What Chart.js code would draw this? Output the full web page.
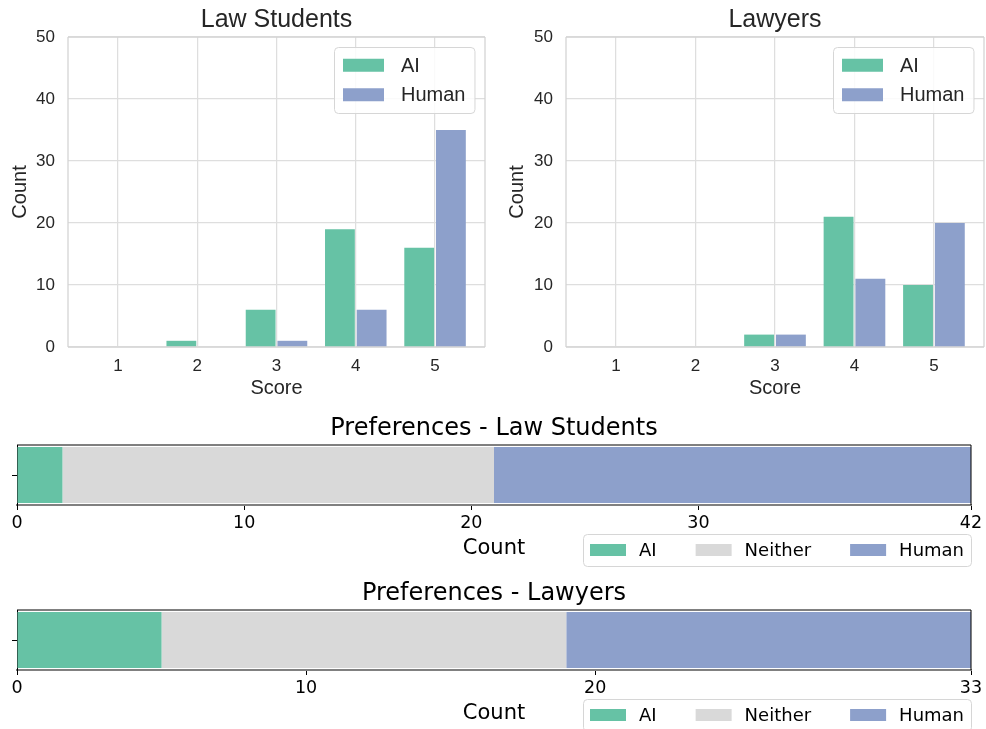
<!DOCTYPE html>
<html>
<head>
<meta charset="utf-8">
<title>Scores and preferences</title>
<script src="https://cdn.jsdelivr.net/npm/chart.js@4.4.1/dist/chart.umd.min.js"></script>
<style>
  html, body { margin: 0; padding: 0; background: #fff; }
  #wrap { position: relative; width: 986px; height: 729px; overflow: hidden; }
  #wrap canvas { position: absolute; }
</style>
</head>
<body>
<div id="wrap">
  <canvas id="students-hist" width="490" height="405" style="left:0;top:0"></canvas>
  <canvas id="lawyers-hist" width="496" height="405" style="left:490px;top:0"></canvas>
  <canvas id="students-pref" width="986" height="165" style="left:0;top:405px"></canvas>
  <canvas id="lawyers-pref" width="986" height="159" style="left:0;top:570px"></canvas>
</div>
<script>
// data
const scoreLabels = [1, 2, 3, 4, 5];
const studentsAI = [0, 1, 6, 19, 16];
const studentsHuman = [0, 0, 1, 6, 35];
const lawyersAI = [0, 0, 2, 21, 10];
const lawyersHuman = [0, 0, 2, 11, 20];

const prefCategories = ['AI', 'Neither', 'Human'];
const studentsPrefs = [2, 19, 21];
const lawyersPrefs = [5, 14, 14];
const studentsPrefTicks = [0, 10, 20, 30, 42];
const lawyersPrefTicks = [0, 10, 20, 33];
const prefRow = [''];

const COLORS = { AI: '#66c2a5', Neither: '#d9d9d9', Human: '#8da0cb' };
const DARK = '#262626';
const SANS = '"Liberation Sans", Arial, sans-serif';
const DEJAVU = '"DejaVu Sans", sans-serif';

Chart.defaults.animation = false;
Chart.defaults.plugins.tooltip.enabled = false;
Chart.defaults.plugins.legend.display = false;

// legend drawn inside / next to the plot area
const insetLegend = {
    id: 'insetLegend',
    afterDraw(chart, args, o) {
        const { ctx, chartArea } = chart;
        const items = chart.data.datasets.map(ds => ({ label: ds.label, color: ds.backgroundColor }));
        ctx.save();
        ctx.font = o.font;
        const widths = items.map(it => ctx.measureText(it.label).width);
        let w, h;
        if (o.vertical) {
            w = o.padX * 2 + o.boxWidth + o.textGap + Math.max(...widths);
            h = o.padY * 2 + o.rowHeight * items.length;
        } else {
            w = o.padX * 2 + widths.reduce((s, tw) => s + o.boxWidth + o.textGap + tw, 0) + o.itemGap * (items.length - 1);
            h = o.padY * 2 + o.rowHeight;
        }
        const x0 = Math.round(chartArea.right - o.offsetRight - w);
        const y0 = Math.round((o.fromBottom ? chartArea.bottom : chartArea.top) + o.offsetTop);
        ctx.beginPath();
        ctx.roundRect(x0 + 0.5, y0 + 0.5, w, h, 4);
        ctx.fillStyle = 'rgba(255,255,255,0.85)';
        ctx.fill();
        ctx.strokeStyle = o.borderColor;
        ctx.lineWidth = 1;
        ctx.stroke();
        ctx.textBaseline = 'middle';
        ctx.textAlign = 'left';
        let x = x0 + o.padX;
        let y = y0 + o.padY + o.rowHeight / 2;
        items.forEach((it, i) => {
            ctx.fillStyle = it.color;
            ctx.fillRect(x, y - o.boxHeight / 2, o.boxWidth, o.boxHeight);
            ctx.fillStyle = o.color;
            ctx.fillText(it.label, x + o.boxWidth + o.textGap, y + o.textShift);
            if (o.vertical) y += o.rowHeight;
            else x += o.boxWidth + o.textGap + widths[i] + o.itemGap;
        });
        ctx.restore();
    }
};

// spines that chart.js does not draw by itself
const plotFrame = {
    id: 'plotFrame',
    afterDraw(chart, args, o) {
        const { ctx, chartArea: a } = chart;
        ctx.save();
        ctx.strokeStyle = o.color;
        ctx.lineWidth = o.width;
        ctx.beginPath();
        if (o.sides.includes('t')) { ctx.moveTo(a.left, a.top); ctx.lineTo(a.right, a.top); }
        if (o.sides.includes('r')) { ctx.moveTo(a.right, a.top); ctx.lineTo(a.right, a.bottom); }
        if (o.sides.includes('b')) { ctx.moveTo(a.left, a.bottom); ctx.lineTo(a.right, a.bottom); }
        if (o.sides.includes('l')) { ctx.moveTo(a.left, a.top); ctx.lineTo(a.left, a.bottom); }
        ctx.stroke();
        ctx.restore();
    }
};

function histChart(id, title, aiData, humanData, yAxisWidth, countPad, rightPad) {
    return new Chart(document.getElementById(id), {
        type: 'bar',
        data: {
            labels: scoreLabels,
            datasets: [
                { label: 'AI', data: aiData, backgroundColor: COLORS.AI },
                { label: 'Human', data: humanData, backgroundColor: COLORS.Human }
            ]
        },
        options: {
            responsive: false,
            layout: { padding: { left: 0, right: rightPad, top: 0, bottom: 0 } },
            datasets: { bar: { categoryPercentage: 0.8, barPercentage: 0.94, borderWidth: 0 } },
            scales: {
                x: {
                    type: 'linear',
                    min: 0.37,
                    max: 5.63,
                    offset: false,
                    afterBuildTicks: s => { s.ticks = scoreLabels.map(v => ({ value: v })); },
                    afterFit: s => { s.height = 58; },
                    grid: { offset: false, color: '#dedede', lineWidth: 1.25, drawTicks: false },
                    border: { display: false },
                    ticks: { color: DARK, font: { family: SANS, size: 17 }, padding: 9 },
                    title: { display: true, text: 'Score', color: DARK, font: { family: SANS, size: 20 }, padding: { top: 0, bottom: 5 } }
                },
                y: {
                    min: 0,
                    max: 50,
                    afterFit: s => { s.width = yAxisWidth; },
                    grid: { color: '#dedede', lineWidth: 1.25, drawTicks: false },
                    border: { display: false },
                    ticks: { stepSize: 10, color: DARK, font: { family: SANS, size: 17 }, padding: 13 },
                    title: { display: true, text: 'Count', color: DARK, font: { family: SANS, size: 20 }, padding: { top: countPad, bottom: 0 } }
                }
            },
            plugins: {
                title: { display: true, fullSize: false, text: title, color: DARK, font: { family: SANS, size: 25, weight: 'normal' }, padding: { top: 5, bottom: 2 } },
                plotFrame: { color: '#d3d3d3', width: 1.25, sides: 'trbl' },
                insetLegend: {
                    vertical: true, font: '20px ' + SANS, color: DARK, borderColor: '#d6d6d6',
                    padX: 9, padY: 3.5, rowHeight: 29.5, boxWidth: 41, boxHeight: 13, textGap: 17, itemGap: 0,
                    offsetRight: 11, offsetTop: 10, fromBottom: false, textShift: 1
                }
            }
        },
        plugins: [plotFrame, insetLegend]
    });
}

function prefChart(id, title, values, tickValues, maxCount, titleBottomPad) {
    return new Chart(document.getElementById(id), {
        type: 'bar',
        data: {
            labels: prefRow,
            datasets: prefCategories.map((cat, i) => ({
                label: cat, data: [values[i]], backgroundColor: COLORS[cat]
            }))
        },
        options: {
            responsive: false,
            indexAxis: 'y',
            layout: { padding: { left: 0, right: 15, top: 0, bottom: 0 } },
            datasets: { bar: { categoryPercentage: 0.933, barPercentage: 1, borderWidth: 0 } },
            scales: {
                x: {
                    type: 'linear',
                    stacked: true,
                    min: 0,
                    max: maxCount,
                    afterBuildTicks: s => { s.ticks = tickValues.map(v => ({ value: v })); },
                    afterFit: s => { s.height = s.chart.height - 100; },
                    grid: { drawOnChartArea: false, tickLength: 5, tickColor: '#000', tickWidth: 1 },
                    border: { color: '#808080', width: 2 },
                    ticks: { color: '#000', font: { family: DEJAVU, size: 17.5 }, padding: 3, maxRotation: 0, autoSkip: false },
                    title: { display: true, text: 'Count', color: '#000', font: { family: DEJAVU, size: 21 }, padding: { top: 0, bottom: titleBottomPad } }
                },
                y: {
                    stacked: true,
                    afterFit: s => { s.width = 17; },
                    grid: { offset: false, drawOnChartArea: false, tickLength: 5, tickColor: '#000', tickWidth: 1 },
                    border: { color: '#000', width: 1 },
                    ticks: { padding: 0, font: { family: DEJAVU, size: 10 } }
                }
            },
            plugins: {
                title: { display: true, fullSize: false, text: title, color: '#000', font: { family: DEJAVU, size: 24, weight: 'normal' }, padding: { top: 9, bottom: 2.2 } },
                plotFrame: { color: '#000', width: 1, sides: 'tr' },
                insetLegend: {
                    vertical: false, font: '18px ' + DEJAVU, color: '#000', borderColor: '#d6d6d6',
                    padX: 7, padY: 6, rowHeight: 20, boxWidth: 36, boxHeight: 12, textGap: 13, itemGap: 39,
                    offsetRight: 0, offsetTop: 28.5, fromBottom: true, textShift: 1.5
                }
            }
        },
        plugins: [plotFrame, insetLegend]
    });
}

histChart('students-hist', 'Law Students', studentsAI, studentsHuman, 68, 8, 5);
histChart('lawyers-hist', 'Lawyers', lawyersAI, lawyersHuman, 76, 15, 2);
prefChart('students-pref', 'Preferences - Law Students', studentsPrefs, studentsPrefTicks, 42, 8.4);
prefChart('lawyers-pref', 'Preferences - Lawyers', lawyersPrefs, lawyersPrefTicks, 33, 2.4);
</script>
</body>
</html>
